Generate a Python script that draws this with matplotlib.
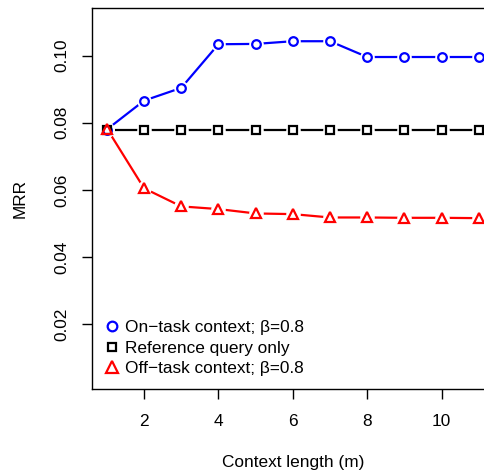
import matplotlib
matplotlib.use("Agg")
import matplotlib.pyplot as plt

plt.rcParams['font.family'] = ['Liberation Sans', 'DejaVu Sans']

# data
m = [1, 2, 3, 4, 5, 6, 7, 8, 9, 10, 11]
on_task = [0.0780, 0.0866, 0.0904, 0.1034, 0.1035, 0.1043, 0.1043,
           0.0996, 0.0996, 0.0996, 0.0996]
ref_only = [0.0779] * 11
off_task = [0.0783, 0.0605, 0.0551, 0.0543, 0.0530, 0.0528, 0.0518,
            0.0518, 0.0517, 0.0517, 0.0516]
labels = ['On\u2212task context; \u03b2=0.8',
          'Reference query only',
          'Off\u2212task context; \u03b2=0.8']

series = [(on_task, 'o', 'blue', 6.2), (ref_only, 's', 'black', 5.6),
          (off_task, '^', 'red', 7.8)]

fig = plt.figure(figsize=(4.84, 4.70), dpi=100)
ax = fig.add_axes([0.190, 0.173, 0.830, 0.810])

# R type="b": lines, then a white gap around points, then hollow markers
for y, mk, c, ms in series:
    ax.plot(m, y, '-', color=c, lw=1.6, zorder=2)
for y, mk, c, ms in series:
    ax.plot(m, y, 'o', ms=10.5, mfc='white', mec='none', zorder=3)
for (y, mk, c, ms), lab in zip(series, labels):
    ax.plot(m, y, mk, color=c, ms=ms, mew=1.6, mfc='none', zorder=4,
            label=lab)

ax.set_xlim(0.6, 11.4)
ax.set_ylim(0.0008, 0.1142)
ax.set_xticks([2, 4, 6, 8, 10])
ax.set_yticks([0.02, 0.04, 0.06, 0.08, 0.10])
ax.set_yticklabels(['0.02', '0.04', '0.06', '0.08', '0.10'],
                   rotation=90, va='center')
ax.tick_params(length=7, width=1, labelsize=12.4)
ax.tick_params(axis='x', pad=11)
ax.tick_params(axis='y', pad=9)
for s in ax.spines.values():
    s.set_linewidth(1)

ax.set_xlabel('Context length (m)', fontsize=12.4, labelpad=19)
ax.set_ylabel('MRR', fontsize=12.4, labelpad=19.5)

ax.legend(loc='lower left', bbox_to_anchor=(0.0, 0.0), frameon=False,
          fontsize=12.4, handlelength=0.8, handletextpad=0.35,
          labelspacing=0.3, borderaxespad=0.3, borderpad=0.45,
          markerscale=1.12)

fig.savefig('out.png', dpi=100)
